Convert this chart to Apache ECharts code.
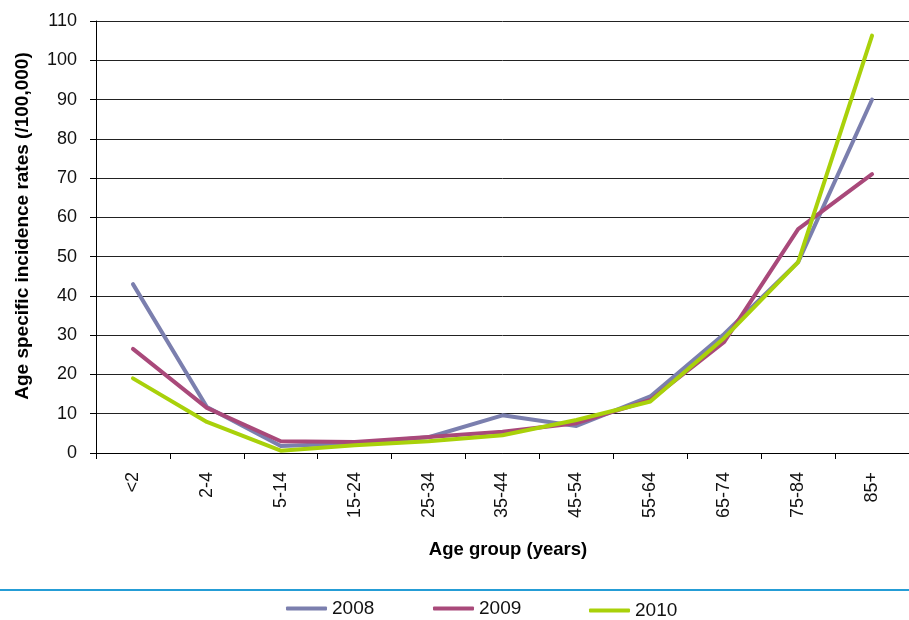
<!DOCTYPE html>
<html>
<head>
<meta charset="utf-8">
<script src="https://cdn.jsdelivr.net/npm/echarts@6/dist/echarts.min.js"></script>
<style>
  html, body { margin: 0; padding: 0; background: #fff; }
  #chart { width: 909px; height: 620px; }
</style>
</head>
<body>
<div id="chart"></div>
<script>
// Age groups (years)
const ageGroups = ['<2', '2-4', '5-14', '15-24', '25-34', '35-44', '45-54', '55-64', '65-74', '75-84', '85+'];

// Age specific incidence rates per 100,000
const rates2008 = [43, 11.7, 1.8, 2.5, 4.0, 9.6, 6.9, 14.4, 30.3, 48.6, 90];
const rates2009 = [26.5, 11.5, 3.0, 2.8, 4.1, 5.4, 7.6, 13.5, 28.3, 57, 71];
const rates2010 = [19, 7.9, 0.6, 2.0, 3.0, 4.5, 8.4, 13.1, 29.3, 48.6, 106.3];

const yTicks = { min: 0, max: 110, interval: 10 };

const colors = { y2008: '#7b7fae', y2009: '#a9497a', y2010: '#a9d10a' };
const font = '"Liberation Sans", Arial, Helvetica, sans-serif';

const chart = echarts.init(document.getElementById('chart'));

function line(name, data, color) {
  return {
    name: name,
    type: 'line',
    data: data,
    symbol: 'none',
    smooth: false,
    lineStyle: { color: color, width: 4, cap: 'round', join: 'round' },
    itemStyle: { color: color }
  };
}

function legendItem(name, left, top) {
  return {
    data: [name],
    left: left,
    top: top,
    itemWidth: 41,
    itemHeight: 4,
    itemGap: 0,
    padding: 0,
    icon: 'roundRect',
    textStyle: { fontFamily: font, fontSize: 19, color: '#111' }
  };
}

chart.setOption({
  animation: false,
  backgroundColor: '#ffffff',
  grid: { left: 96, top: 21, right: 0, bottom: 167, containLabel: false, outerBoundsMode: 'none' },
  xAxis: {
    type: 'category',
    data: ageGroups,
    boundaryGap: true,
    name: 'Age group (years)',
    nameLocation: 'middle',
    nameGap: 87,
    nameTextStyle: { fontFamily: font, fontSize: 18.5, fontWeight: 'bold', color: '#000', padding: [0, 0, 0, 11] },
    axisLine: { show: true, lineStyle: { color: '#000', width: 1 } },
    axisTick: { show: true, alignWithLabel: false, length: 6, lineStyle: { color: '#000' } },
    axisLabel: { rotate: 90, margin: 19, fontFamily: font, fontSize: 18, color: '#111' },
    splitLine: { show: false }
  },
  yAxis: {
    type: 'value',
    min: yTicks.min,
    max: yTicks.max,
    interval: yTicks.interval,
    name: 'Age specific incidence rates (/100,000)',
    nameLocation: 'middle',
    nameGap: 64,
    nameRotate: 90,
    nameTextStyle: { fontFamily: font, fontSize: 19, fontWeight: 'bold', color: '#000', padding: [0, 0, 0, 22] },
    axisLine: { show: true, lineStyle: { color: '#000', width: 1 } },
    axisTick: { show: true, inside: false, length: 6, lineStyle: { color: '#000' } },
    axisLabel: { margin: 19, fontFamily: font, fontSize: 18, color: '#111' },
    splitLine: { show: true, lineStyle: { color: '#222', width: 1 } }
  },
  legend: [
    legendItem('2008', 286, 599),
    legendItem('2009', 433, 599),
    legendItem('2010', 589, 601)
  ],
  graphic: [
    {
      type: 'line',
      shape: { x1: 0, y1: 590, x2: 909, y2: 590 },
      style: { stroke: '#259dd6', lineWidth: 2 }
    }
  ],
  series: [
    line('2008', rates2008, colors.y2008),
    line('2009', rates2009, colors.y2009),
    line('2010', rates2010, colors.y2010)
  ]
});
</script>
</body>
</html>
